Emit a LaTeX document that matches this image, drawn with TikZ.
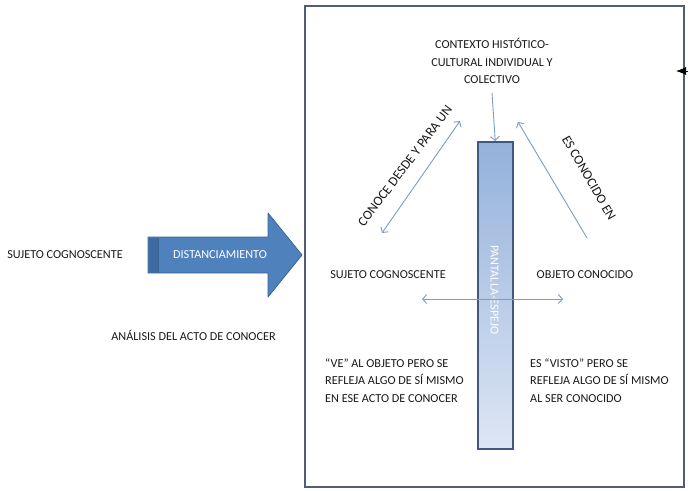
\documentclass[tikz,border=0pt]{standalone}
\usepackage{fontspec}
\setmainfont{Carlito}
\usetikzlibrary{arrows.meta}
\definecolor{framec}{HTML}{505D75}
\definecolor{arrowfill}{HTML}{4F81BD}
\definecolor{arrowdraw}{HTML}{3A6496}
\definecolor{arrowdark}{HTML}{3D6AA2}
\definecolor{bartop}{HTML}{94B1DA}
\definecolor{barbot}{HTML}{DDE6F4}
\definecolor{bardraw}{HTML}{3E5A82}
\definecolor{linec}{HTML}{7E9CC6}
\definecolor{txt}{HTML}{1A1A1A}
\begin{document}
\begin{tikzpicture}[x=1pt,y=-1pt,
  every node/.style={font=\fontsize{12.2}{17.5}\selectfont, text=txt, inner sep=0pt},
  lbl/.style={},
  rlbl/.style={font=\fontsize{13.4}{16}\selectfont},
  conn/.style={draw=linec, line width=0.9pt},
  tip/.style={-{Straight Barb[length=4pt,width=9pt]}},
  dtip/.style={{Straight Barb[length=4pt,width=9pt]}-{Straight Barb[length=4pt,width=9pt]}}
]
\useasboundingbox (0,0) rectangle (688,490);
\fill[white] (0,0) rectangle (688,490);

% frame
\node[draw=framec, line width=1.8pt, minimum width=379pt, minimum height=481pt, anchor=north west] (frame) at (304,5) {};

% left texts
\node[lbl] (suj0) at (65,255) {SUJETO COGNOSCENTE};
\node[lbl] (anal) at (193.5,335) {ANÁLISIS DEL ACTO DE CONOCER};

% big arrow
\fill[arrowfill, draw=arrowdraw, line width=0.8pt, line join=round]
  (148,237) -- (268,237) -- (268,213) -- (302,255) -- (268,297) -- (268,273) -- (148,273) -- cycle;
\fill[arrowdark] (149,237.5) rectangle (158,272.5);
\draw[arrowdraw, line width=0.6pt] (158,237.5) -- (158,272.5);
\node[text=white] (dist) at (220,255) {DISTANCIAMIENTO};

% bar
\node[draw=bardraw, line width=1.5pt, top color=bartop, bottom color=barbot,
      minimum width=35pt, minimum height=307pt, anchor=north west] (bar) at (477,141) {};
\node[text=white, rotate=-90] (bartxt) at (494.5,290) {PANTALLA-ESPEJO};

% context
\node[align=center] (ctx) at (492,61) {CONTEXTO HISTÓTICO-\\CULTURAL INDIVIDUAL Y\\COLECTIVO};

% subject and object
\node[lbl] (suj) at (388,275) {SUJETO COGNOSCENTE};
\node[lbl] (obj) at (585,275) {OBJETO CONOCIDO};

% bottom texts
\node[align=left, anchor=west] (vel) at (325,380.5) {“VE” AL OBJETO PERO SE\\REFLEJA ALGO DE SÍ MISMO\\EN ESE ACTO DE CONOCER};
\node[align=left, anchor=west] (vis) at (530,380.5) {ES “VISTO” PERO SE\\REFLEJA ALGO DE SÍ MISMO\\AL SER CONOCIDO};

% connectors
\coordinate (c1) at (492,93);
\draw[conn, tip] (c1) -- (bar.north);

\coordinate (a1) at (382,233);
\coordinate (a2) at (460,121);
\draw[conn, dtip] (a1) -- (a2);
\node[rlbl, rotate=53] (conoce) at (405,166) {CONOCE DESDE Y PARA UN};

\coordinate (b1) at (587,238);
\coordinate (b2) at (518,122);
\draw[conn, tip] (b1) -- (b2);
\node[rlbl, rotate=-60] (escon) at (589,178) {ES CONOCIDO EN};

\coordinate (h1) at (422,299);
\coordinate (h2) at (563,299);
\draw[conn, dtip] (h1) -- (h2);

% black arrow entering from the right
\coordinate (ext) at (700,71);
\coordinate (etip) at (676,71);
\draw[black, line width=0.8pt, -{Latex[length=10pt,width=8pt]}] (ext) -- (etip);
\end{tikzpicture}
\end{document}
